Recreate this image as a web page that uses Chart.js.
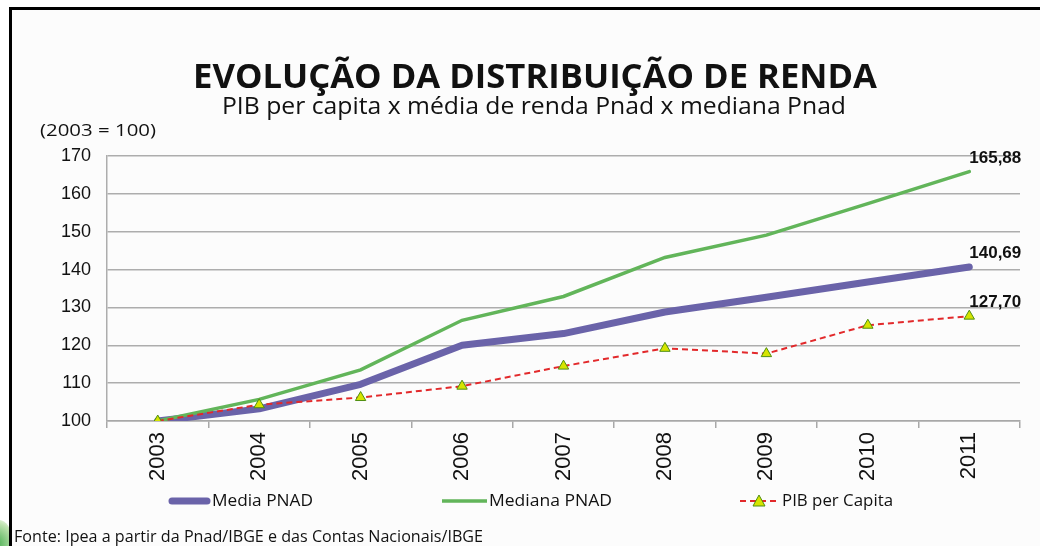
<!DOCTYPE html>
<html>
<head>
<meta charset="utf-8">
<script src="https://cdn.jsdelivr.net/npm/chart.js@4"></script>
<style>
  html, body { margin: 0; padding: 0; background: #fff; }
  #wrap { position: relative; width: 1040px; height: 546px; overflow: hidden; background: #fff; }
  #frame { position: absolute; left: 9px; top: 7px; right: 0; bottom: 0; border-top: 3px solid #000; border-left: 3px solid #000; background: #fcfcfc; }
  #blob { position: absolute; left: -14px; top: 520px; width: 26px; height: 40px; border-radius: 50%; background: radial-gradient(circle at 30% 60%, #3aa845, #bfe3b0 70%, #fff); }
  canvas { position: absolute; left: 0; top: 0; }
  .txt { position: absolute; white-space: nowrap; line-height: 1; color: #111; font-family: "Open Sans", sans-serif; transform-origin: 0 0; }
</style>
</head>
<body>
<div id="wrap">
  <div id="blob"></div>
  <div id="frame"></div>
  <canvas id="chart" width="1040" height="546"></canvas>
  <div class="txt" id="title" data-w="684" data-x="193" style="top:58px;font-size:34px;font-weight:700;">EVOLUÇÃO DA DISTRIBUIÇÃO DE RENDA</div>
  <div class="txt" id="subtitle" data-w="624" data-x="222" style="top:94px;font-size:23px;">PIB per capita x média de renda Pnad x mediana Pnad</div>
  <div class="txt" data-w="116" data-x="40" style="top:121px;font-size:17px;">(2003 = 100)</div>
  <div class="txt" data-w="101" data-x="212" style="top:492px;font-size:16.5px;">Media PNAD</div>
  <div class="txt" data-w="123" data-x="489" style="top:492px;font-size:16.5px;">Mediana PNAD</div>
  <div class="txt" data-w="111" data-x="782" style="top:492px;font-size:16.5px;">PIB per Capita</div>
  <div class="txt" data-w="469" data-x="14" style="top:529px;font-size:15.5px;">Fonte: Ipea a partir da Pnad/IBGE e das Contas Nacionais/IBGE</div>
</div>
<script>
const years = ["2003", "2004", "2005", "2006", "2007", "2008", "2009", "2010", "2011"];
const mediaPnad = [100, 103.2, 109.7, 120.0, 123.1, 128.8, 132.7, 136.7, 140.69];
const medianaPnad = [100, 105.7, 113.5, 126.6, 132.9, 143.2, 149.1, 157.4, 165.88];
const pibPerCapita = [100, 104.3, 106.2, 109.2, 114.5, 119.2, 117.8, 125.3, 127.70];
const yMin = 100, yMax = 170, yStep = 10;
const endLabels = ["140,69", "165,88", "127,70"];

// squeeze the condensed-looking texts to the widths seen in the picture
document.querySelectorAll(".txt").forEach((el) => {
  el.style.left = el.dataset.x + "px";
  const w = el.getBoundingClientRect().width;
  el.style.transform = `scaleX(${el.dataset.w / w})`;
});

const purple = "#6a63a9";
const green = "#62b55a";
const red = "#e2292b";

// value labels at the end of each line
const endLabelPlugin = {
  id: "endLabels",
  afterDatasetsDraw(chart) {
    const ctx = chart.ctx;
    ctx.save();
    ctx.font = "bold 17px 'Liberation Sans', Arial, sans-serif";
    ctx.fillStyle = "#111";
    ctx.textBaseline = "bottom";
    ctx.textAlign = "left";
    chart.data.datasets.forEach((ds, i) => {
      const meta = chart.getDatasetMeta(i);
      const pt = meta.data[meta.data.length - 1];
      ctx.fillText(endLabels[i], pt.x, pt.y - 5);
    });
    ctx.restore();
  }
};

// legend samples drawn with the datasets' own styles
const legendPlugin = {
  id: "legendSamples",
  afterDraw(chart) {
    const ctx = chart.ctx;
    const y = 501;
    const ds = chart.data.datasets;
    ctx.save();
    ctx.lineCap = "round";
    ctx.strokeStyle = ds[0].borderColor; ctx.lineWidth = ds[0].borderWidth;
    ctx.beginPath(); ctx.moveTo(172, y); ctx.lineTo(207, y); ctx.stroke();
    ctx.lineCap = "butt";
    ctx.strokeStyle = ds[1].borderColor; ctx.lineWidth = ds[1].borderWidth;
    ctx.beginPath(); ctx.moveTo(442, y); ctx.lineTo(487, y); ctx.stroke();
    ctx.strokeStyle = ds[2].borderColor; ctx.lineWidth = ds[2].borderWidth;
    ctx.setLineDash(ds[2].borderDash);
    ctx.beginPath(); ctx.moveTo(740, y); ctx.lineTo(778, y); ctx.stroke();
    ctx.setLineDash([]);
    ctx.fillStyle = ds[2].pointBackgroundColor; ctx.strokeStyle = ds[2].pointBorderColor; ctx.lineWidth = 1;
    ctx.beginPath(); ctx.moveTo(759, y - 6); ctx.lineTo(765, y + 5); ctx.lineTo(753, y + 5); ctx.closePath();
    ctx.fill(); ctx.stroke();
    ctx.restore();
  }
};

new Chart(document.getElementById("chart"), {
  type: "line",
  data: {
    labels: years,
    datasets: [
      { label: "Media PNAD", data: mediaPnad, borderColor: purple, borderWidth: 7, pointRadius: 0, order: 3, borderCapStyle: "round", borderJoinStyle: "round" },
      { label: "Mediana PNAD", data: medianaPnad, borderColor: green, borderWidth: 3.5, pointRadius: 0, order: 2, borderCapStyle: "round" },
      { label: "PIB per Capita", data: pibPerCapita, borderColor: red, borderWidth: 2, borderDash: [6, 4], order: 1,
        pointStyle: "triangle", pointRadius: 6, pointBackgroundColor: "#d6e400", pointBorderColor: "#4f8f12", pointBorderWidth: 1 }
    ]
  },
  options: {
    responsive: false,
    animation: false,
    events: [],
    layout: { padding: { left: 0, right: 20, top: 156, bottom: 60 } },
    plugins: { legend: { display: false }, title: { display: false }, tooltip: { enabled: false } },
    scales: {
      x: {
        offset: true,
        afterFit(scale) { scale.height = 65; },
        grid: { offset: true, drawOnChartArea: false, drawTicks: true, tickLength: 7, color: "#a8a8a8", lineWidth: 1.5 },
        border: { color: "#a8a8a8", width: 1.5 },
        ticks: { minRotation: 90, maxRotation: 90, padding: 4, color: "#111", font: { family: "'Liberation Sans', Arial, sans-serif", size: 22 } }
      },
      y: {
        min: yMin, max: yMax,
        afterFit(scale) { scale.width = 107; },
        grid: { color: "#adadad", lineWidth: 1.5, drawTicks: false },
        border: { color: "#adadad", width: 1.5 },
        ticks: { stepSize: yStep, padding: 16, color: "#111", font: { family: "'Liberation Sans', Arial, sans-serif", size: 18 } }
      }
    }
  },
  plugins: [endLabelPlugin, legendPlugin]
});
</script>
</body>
</html>
